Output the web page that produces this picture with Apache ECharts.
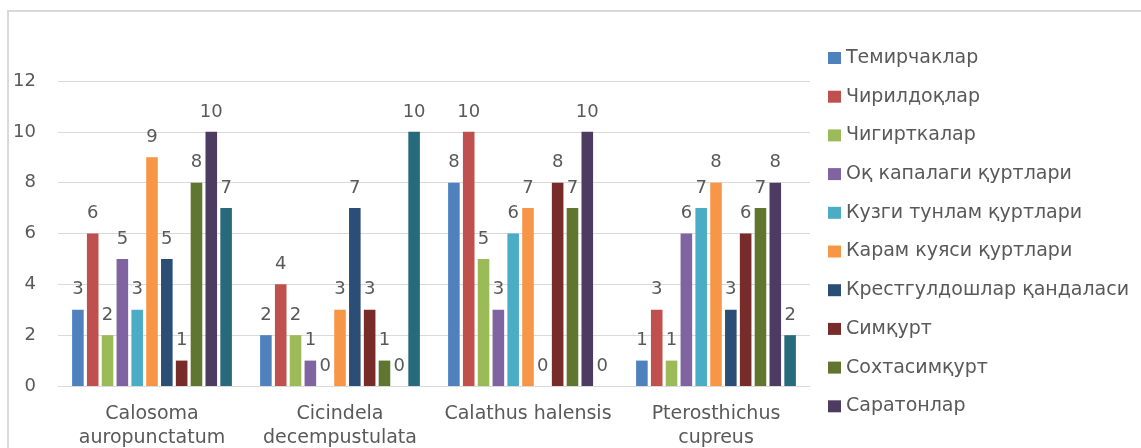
<!DOCTYPE html>
<html>
<head>
<meta charset="utf-8">
<script src="https://cdn.jsdelivr.net/npm/echarts@6/dist/echarts.min.js"></script>
<style>
  html, body { margin: 0; padding: 0; background: #ffffff; }
  #chart { width: 1141px; height: 448px; }
</style>
</head>
<body>
<div id="chart"></div>
<script>
// Beetle species (x axis)
const categories = [
  'Calosoma\nauropunctatum',
  'Cicindela\ndecempustulata',
  'Calathus halensis',
  'Pterosthichus\ncupreus'
];

// Prey groups (legend)
const seriesNames = [
  'Темирчаклар',
  'Чирилдоқлар',
  'Чигирткалар',
  'Оқ капалаги қуртлари',
  'Кузги тунлам қуртлари',
  'Карам куяси қуртлари',
  'Крестгулдошлар қандаласи',
  'Симқурт',
  'Сохтасимқурт',
  'Саратонлар',
  'Бошқалар'
];

// Values per prey group, one entry per beetle species
const temirchaklar   = [3, 2, 8, 1];
const chirildoqlar   = [6, 4, 10, 3];
const chigirtkalar   = [2, 2, 5, 1];
const oqKapalagi     = [5, 1, 3, 6];
const kuzgiTunlam    = [3, 0, 6, 7];
const karamKuyasi    = [9, 3, 7, 8];
const krestguldosh   = [5, 7, 0, 3];
const simqurt        = [1, 3, 8, 6];
const sokhtasimqurt  = [8, 1, 7, 7];
const saratonlar     = [10, 0, 10, 8];
const boshqalar      = [7, 10, 0, 2];

const yTicks = [0, 2, 4, 6, 8, 10, 12];

const seriesValues = [
  temirchaklar, chirildoqlar, chigirtkalar, oqKapalagi, kuzgiTunlam,
  karamKuyasi, krestguldosh, simqurt, sokhtasimqurt, saratonlar, boshqalar
];

const colors = [
  '#4F81BD', '#C0504D', '#9BBB59', '#8064A2', '#4BACC6',
  '#F79646', '#2C4D75', '#772C2A', '#5F7530', '#4D3B62', '#276A7C'
];

const FONT = '"DejaVu Sans", Verdana, sans-serif';
const TEXT = '#595959';

const chart = echarts.init(document.getElementById('chart'), null, { renderer: 'canvas' });

chart.setOption({
  animation: false,
  color: colors,
  textStyle: { fontFamily: FONT },
  graphic: [{
    type: 'rect',
    shape: { x: 8, y: 11, width: 2000, height: 800 },
    style: { fill: 'none', stroke: '#d9d9d9', lineWidth: 2 },
    silent: true
  }],
  grid: {
    left: 58, right: 331, top: 81, bottom: 62,
    containLabel: false,
    outerBoundsMode: 'none'
  },
  legend: {
    data: seriesNames.slice(0, 10),
    orient: 'vertical',
    left: 823,
    top: 43,
    itemWidth: 13,
    itemHeight: 12,
    itemGap: 18.7,
    itemTextGap: 6,
    icon: 'rect',
    textStyle: { fontFamily: FONT, fontSize: 19, color: TEXT, lineHeight: 20 }
  },
  xAxis: {
    type: 'category',
    data: categories,
    axisLine: { show: true, lineStyle: { color: '#d9d9d9', width: 1 } },
    axisTick: { show: false },
    axisLabel: {
      fontFamily: FONT, fontSize: 19, color: TEXT,
      lineHeight: 24, margin: 16, interval: 0
    }
  },
  yAxis: {
    type: 'value',
    min: yTicks[0],
    max: yTicks[yTicks.length - 1],
    interval: 2,
    axisLine: { show: false },
    axisTick: { show: false },
    splitLine: { lineStyle: { color: '#d9d9d9', width: 1 } },
    axisLabel: { fontFamily: FONT, fontSize: 18, color: TEXT, margin: 22 }
  },
  series: seriesNames.map((name, i) => ({
    name,
    type: 'bar',
    data: seriesValues[i],
    barGap: '28%',
    barCategoryGap: '15%',
    label: {
      show: true,
      position: 'top',
      distance: 11,
      fontFamily: FONT,
      fontSize: 18,
      color: TEXT
    }
  }))
});
</script>
</body>
</html>
